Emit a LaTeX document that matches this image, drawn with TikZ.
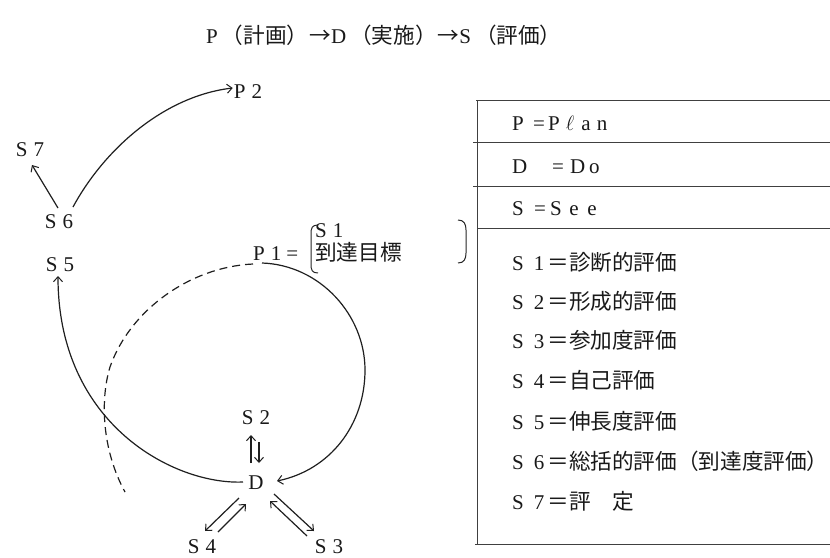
\documentclass[tikz,border=0pt]{standalone}
\usepackage{fontspec}
\setmainfont{Liberation Serif}
\newfontfamily\cjk{Noto Sans CJK JP}[Scale=1.03]
\usetikzlibrary{arrows.meta}
\newcommand\cellc[2][16pt]{\makebox[#1][c]{#2}}
\tikzset{
  every node/.style={font=\fontsize{21}{25}\selectfont, inner sep=0pt, text=black!90},
  tx/.style={anchor=base west},
  lbl/.style={anchor=center},
  con/.style={line width=1.2pt, draw=black!88},
  arr/.style={con, -{Straight Barb[length=5pt,width=9pt,line width=1pt]}},
  dashcurve/.style={con, dash pattern=on 8pt off 5pt},
  rule/.style={line width=0.9pt, draw=black!75},
  brk/.style={line width=1pt, draw=black!85},
}
\begin{document}
\begin{tikzpicture}[x=1pt,y=-1pt]
\useasboundingbox (0,0) rectangle (830,557);
\fill[white] (0,0) rectangle (830,557);

% title
\node[tx] (title) at (206,43) {P\hspace{4pt}{\cjk （計画）\hspace{1pt}→}D\hspace{4pt}{\cjk （実施）\hspace{1pt}→}S\hspace{4pt}{\cjk （評価）}};

% ---------- table ----------
\draw[rule] (477,100) -- (477,544);
\draw[rule] (476,100) -- (830,100);
\draw[rule] (473,142.7) -- (830,142.7);
\draw[rule] (473,186.7) -- (830,186.7);
\draw[rule] (477,228) -- (830,228);
\draw[rule] (475,544) -- (830,544);

\node[tx] (rP) at (512,130) {\makebox[21pt][l]{P}=\hspace{1pt}\cellc{P}\cellc{$\ell$}\cellc{a}\cellc{n}};
\node[tx] (rD) at (512,173) {\makebox[40pt][l]{D}=\hspace{6pt}D\hspace{4pt}o};
\node[tx] (rS) at (512,215) {\makebox[22pt][l]{S}=\hspace{1pt}\cellc[18pt]{S}\cellc[18pt]{e}\cellc[18pt]{e}};
\node[tx] (r1) at (512,270) {S\hspace{10pt}1\hspace{3pt}{\cjk ＝診断的評価}};
\node[tx] (r2) at (512,309) {S\hspace{10pt}2\hspace{3pt}{\cjk ＝形成的評価}};
\node[tx] (r3) at (512,348) {S\hspace{10pt}3\hspace{3pt}{\cjk ＝参加度評価}};
\node[tx] (r4) at (512,388) {S\hspace{10pt}4\hspace{3pt}{\cjk ＝自己評価}};
\node[tx] (r5) at (512,429) {S\hspace{10pt}5\hspace{3pt}{\cjk ＝伸長度評価}};
\node[tx] (r6) at (512,469) {S\hspace{10pt}6\hspace{3pt}{\cjk ＝総括的評価（到達度評価）}};
\node[tx] (r7) at (512,509) {S\hspace{10pt}7\hspace{3pt}{\cjk ＝評　定}};

% closing bracket beside the table
\draw[brk] (458,220) .. controls (464,220) and (466,224) .. (466,230) -- (466,253) .. controls (466,259) and (464,263) .. (458,263);

% ---------- cycle diagram ----------
\node[lbl] (P2) at (248,92) {P\hspace{6pt}2};
\node[lbl] (S7) at (30,150) {S\hspace{6pt}7};
\node[lbl] (S6) at (59,222) {S\hspace{6pt}6};
\node[lbl] (S5) at (60,265) {S\hspace{6pt}5};
\node[lbl] (S2) at (256,418) {S\hspace{6pt}2};
\node[lbl] (D)  at (256,483) {D};
\node[lbl] (S4) at (202,547) {S\hspace{6pt}4};
\node[lbl] (S3) at (329,547) {S\hspace{6pt}3};

\node[tx] (P1) at (253,260) {P\hspace{6pt}1\hspace{5pt}=};
\node[tx] (P1a) at (315,237) {S\hspace{6pt}1};
\node[tx] (P1b) at (315,260) {\cjk 到達目標};
\draw[brk] (318,225) .. controls (312,225) and (311,228) .. (311,234) -- (311,264) .. controls (311,270) and (312,273) .. (318,273);

\coordinate (Js) at (262,263);
\coordinate (Jd) at (253,264);
\coordinate (Dend) at (125,492);

% S6 -> S7, S6 -> P2
\draw[arr] ([shift={(-1,-14)}]S6.center) -- ([shift={(2,15)}]S7.center);
\draw[arr] ([shift={(14,-15)}]S6.center) .. controls (105,148) and (165,96) .. ([shift={(-1,-4)}]P2.west);

% P1 -> D (solid loop)
\draw[arr] (Js) .. controls (320,265) and (365,315) .. (365,370) .. controls (365,425) and (330,470) .. ([shift={(21,-2)}]D.center);

% dashed arc
\draw[dashcurve] (Jd) .. controls (190,267) and (130,310) .. (110,367) .. controls (100,400) and (102,450) .. (Dend);

% D -> S5
\draw[arr] ([shift={(-13,-1)}]D.center) .. controls (175,485) and (58,425) .. ([shift={(-2,11)}]S5.center);

% D <-> S2
\draw[arr] ([shift={(-5,-20)}]D.center) -- ([shift={(-5,17)}]S2.center);
\draw[arr] ([shift={(3,24)}]S2.center) -- ([shift={(3,-20)}]D.center);

% D <-> S4
\draw[arr] ([shift={(-17,15)}]D.center) -- ([shift={(3,-16)}]S4.center);
\draw[arr] ([shift={(16,-15)}]S4.center) -- ([shift={(-10,21)}]D.center);

% D <-> S3
\draw[arr] ([shift={(18,11)}]D.center) -- ([shift={(-15,-16)}]S3.center);
\draw[arr] ([shift={(-22,-11)}]S3.center) -- ([shift={(14,18)}]D.center);
\end{tikzpicture}
\end{document}
